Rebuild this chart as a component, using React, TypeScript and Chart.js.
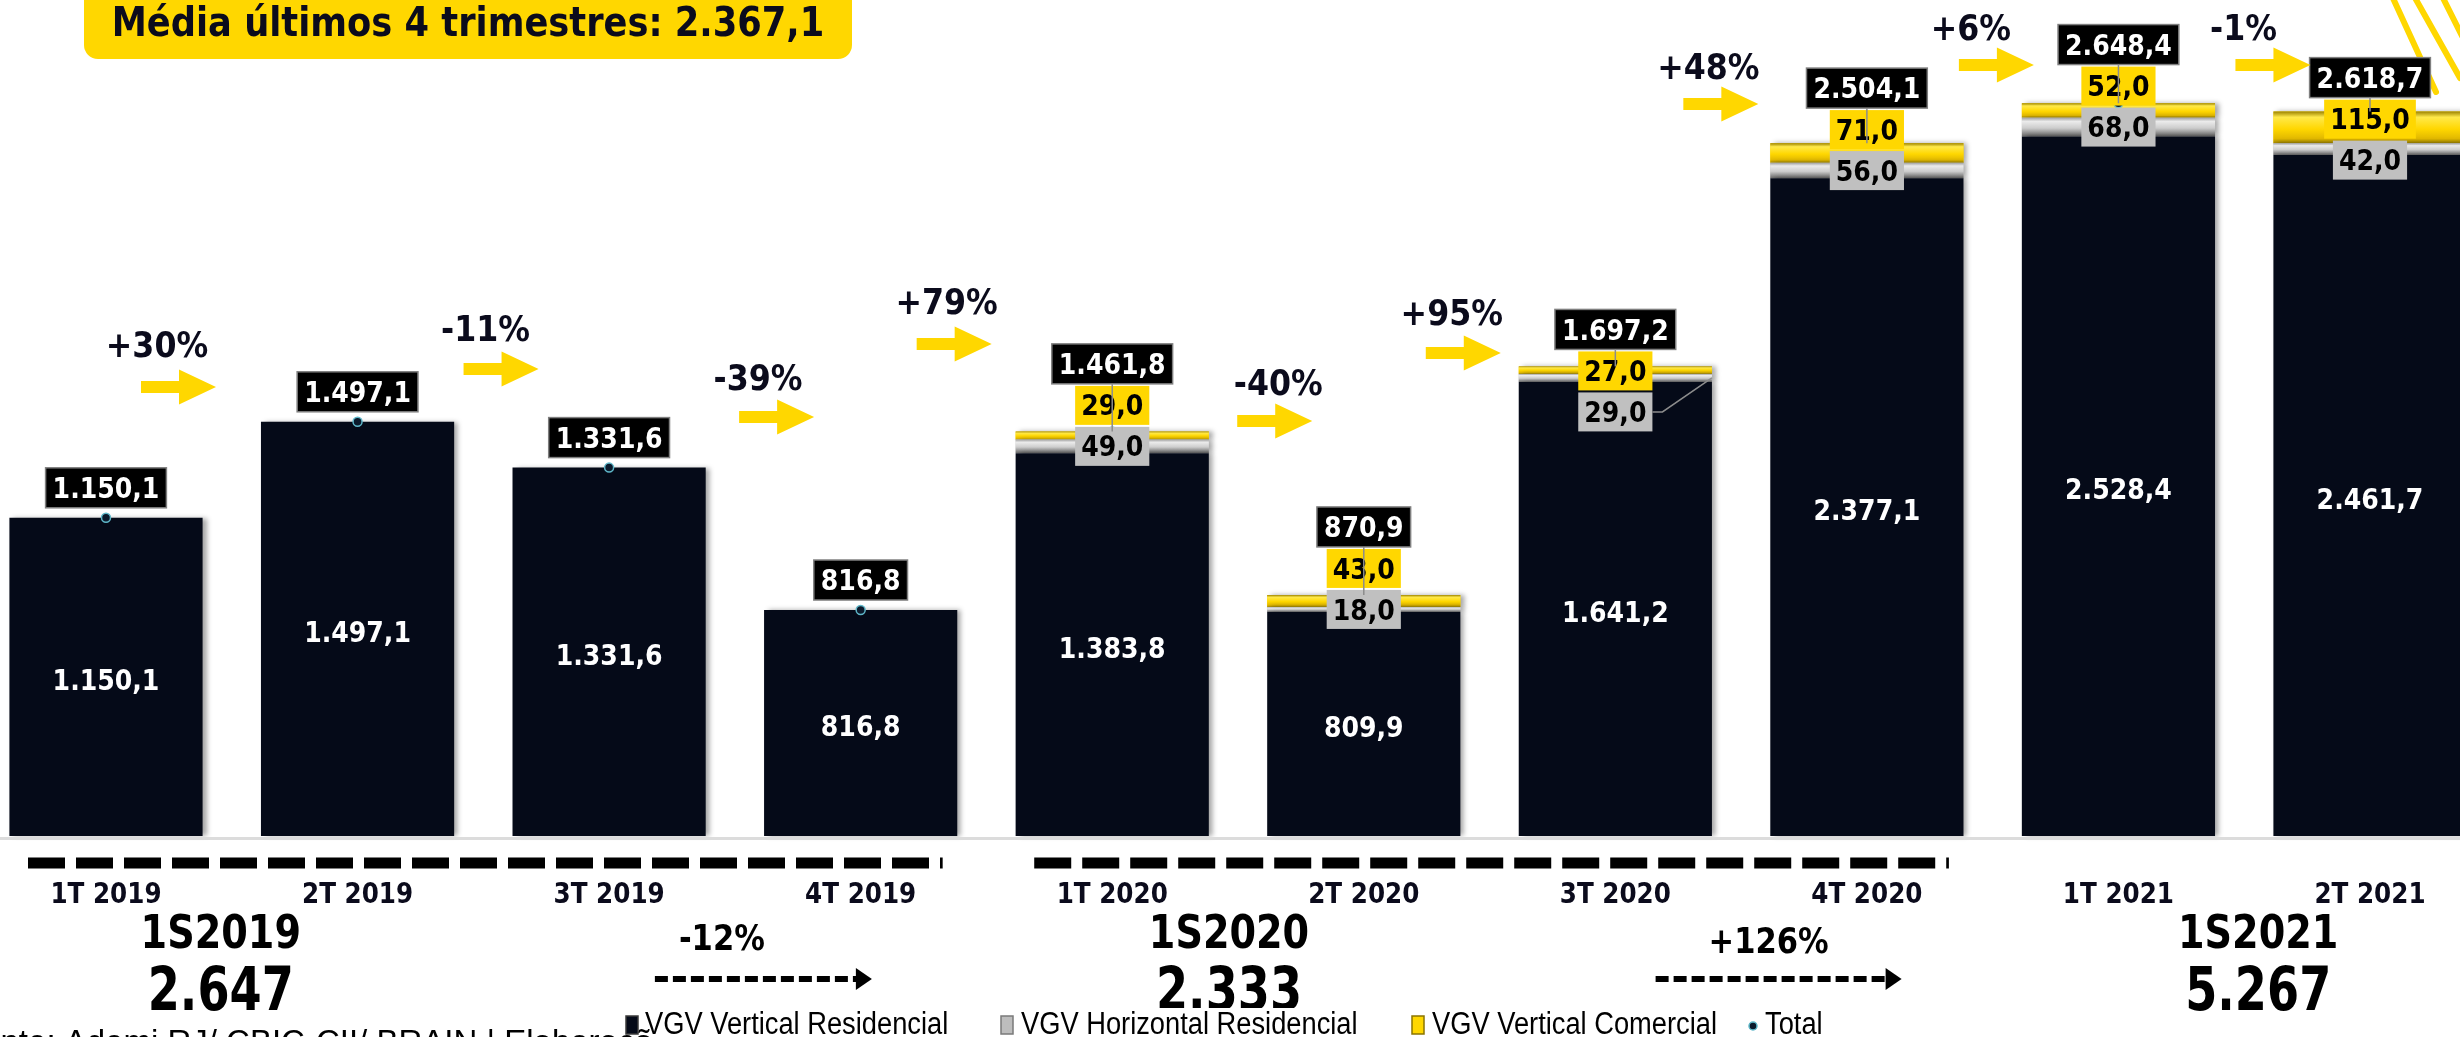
import React, { useEffect, useRef } from "react";
import { Chart, registerables } from "chart.js";

Chart.register(...registerables);

// ---------------- data ----------------
const categories = ["1T 2019", "2T 2019", "3T 2019", "4T 2019", "1T 2020", "2T 2020", "3T 2020", "4T 2020", "1T 2021", "2T 2021"];
const vgvVerticalResidencial = [1150.1, 1497.1, 1331.6, 816.8, 1383.8, 809.9, 1641.2, 2377.1, 2528.4, 2461.7];
const vgvHorizontalResidencial = [0, 0, 0, 0, 49.0, 18.0, 29.0, 56.0, 68.0, 42.0];
const vgvVerticalComercial = [0, 0, 0, 0, 29.0, 43.0, 27.0, 71.0, 52.0, 115.0];
const totalValues = [1150.1, 1497.1, 1331.6, 816.8, 1461.8, 870.9, 1697.2, 2504.1, 2648.4, 2618.7];
const quarterChanges = ["+30%", "-11%", "-39%", "+79%", "-40%", "+95%", "+48%", "+6%", "-1%"];
const semesterNames = ["1S2019", "1S2020", "1S2021"];
const semesterTotals = ["2.647", "2.333", "5.267"];
const semesterChanges = ["-12%", "+126%"];
const headline = "Média últimos 4 trimestres: 2.367,1";
const sourceNote = "Fonte: Ademi RJ/ CBIC-CII/ BRAIN | Elaboração: BRAIN";
const legendNames = ["VGV Vertical Residencial", "VGV Horizontal Residencial", "VGV Vertical Comercial", "Total"];

// ---------------- layout / style ----------------
const W = 2460;
const H = 1037;
const NAVY = "#050a18";
const GOLD = "#FFD700";
const GRAY = "#c4c4c4";
const INK = "#0b0b1c";
const BOLD = "'DejaVu Sans'";
const NARROW = "'Liberation Sans'";
const VAL_SIZE = 28;
const VAL_SX = 0.9;
// annotation offsets (px) relative to the x position of the "from" bar
const CHANGE_POS = [
  { ax: 35, ay: 387, tx: 51, ty: 344 },
  { ax: 106, ay: 369, tx: 128, ty: 328 },
  { ax: 130, ay: 417, tx: 149, ty: 377 },
  { ax: 56, ay: 344, tx: 86, ty: 301 },
  { ax: 125, ay: 421, tx: 166, ty: 382 },
  { ax: 62, ay: 353, tx: 88, ty: 312 },
  { ax: 68, ay: 104, tx: 93, ty: 66 },
  { ax: 92, ay: 65, tx: 104, ty: 27 },
  { ax: 117, ay: 65, tx: 125, ty: 27 },
];
const GRAY_LABEL_SHIFT = [0, 0, 0, 0, 0, 0, 34, 0, 0, 11];
const SEMESTER_BARS = [[0, 1], [4, 5], [8, 9]];
const SEMESTER_DX = [-11, -9, 14];
const DASH_GROUPS = [[0, 3], [4, 7]];
const SEM_CHANGE_POS = [
  { tdx: -3, ty: 937, a0: -70, a1: 147, ay: 979 },
  { tdx: 25, ty: 940, a0: -88, a1: 158, ay: 979 },
];

const fmt = (v: number) => {
  const [i, d] = v.toFixed(1).split(".");
  return i.replace(/\B(?=(\d{3})+(?!\d))/g, ".") + "," + d;
};

function capText(ctx: CanvasRenderingContext2D, s: string, cx: number, cy: number, size: number, family: string, weight: string, color: string, sx = 1, align: CanvasTextAlign = "center") {
  ctx.save();
  ctx.font = `${weight} ${size}px ${family}`;
  ctx.fillStyle = color;
  ctx.textAlign = align;
  ctx.textBaseline = "alphabetic";
  ctx.translate(cx, cy + size * 0.36);
  ctx.scale(sx, 1);
  ctx.fillText(s, 0, 0);
  ctx.restore();
}

function labelBox(ctx: CanvasRenderingContext2D, s: string, cx: number, top: number, h: number, fill: string, stroke: string | null, color: string, padX: number) {
  ctx.save();
  ctx.font = `bold ${VAL_SIZE}px ${BOLD}`;
  const w = ctx.measureText(s).width * VAL_SX + padX * 2;
  ctx.fillStyle = fill;
  ctx.fillRect(cx - w / 2, top, w, h);
  if (stroke) {
    ctx.strokeStyle = stroke;
    ctx.lineWidth = 1.5;
    ctx.strokeRect(cx - w / 2, top, w, h);
  }
  ctx.restore();
  capText(ctx, s, cx, top + h / 2, VAL_SIZE, BOLD, "bold", color, VAL_SX);
  return w;
}

function yellowArrow(ctx: CanvasRenderingContext2D, x: number, cy: number) {
  const L = 75, sh = 12, headL = 37, headH = 35;
  ctx.save();
  ctx.fillStyle = GOLD;
  ctx.beginPath();
  ctx.moveTo(x, cy - sh / 2);
  ctx.lineTo(x + L - headL, cy - sh / 2);
  ctx.lineTo(x + L - headL, cy - headH / 2);
  ctx.lineTo(x + L, cy);
  ctx.lineTo(x + L - headL, cy + headH / 2);
  ctx.lineTo(x + L - headL, cy + sh / 2);
  ctx.lineTo(x, cy + sh / 2);
  ctx.closePath();
  ctx.fill();
  ctx.restore();
}

function dashedArrow(ctx: CanvasRenderingContext2D, x0: number, x1: number, y: number) {
  ctx.save();
  ctx.strokeStyle = "#000";
  ctx.fillStyle = "#000";
  ctx.lineWidth = 6;
  ctx.setLineDash([13, 5]);
  ctx.beginPath();
  ctx.moveTo(x0, y);
  ctx.lineTo(x1 - 14, y);
  ctx.stroke();
  ctx.setLineDash([]);
  ctx.beginPath();
  ctx.moveTo(x1 - 16, y - 11);
  ctx.lineTo(x1, y);
  ctx.lineTo(x1 - 16, y + 11);
  ctx.closePath();
  ctx.fill();
  ctx.restore();
}

const bevelPlugin = {
  id: "bevel",
  beforeDatasetDraw(chart: any, args: any) {
    if (args.meta.type === "bar") {
      const ctx = chart.ctx;
      ctx.save();
      ctx.shadowColor = "rgba(0,0,0,0.35)";
      ctx.shadowBlur = 5;
      ctx.shadowOffsetX = 4;
      ctx.shadowOffsetY = 0;
    }
  },
  afterDatasetDraw(chart: any, args: any) {
    if (args.meta.type !== "bar") return;
    const ctx = chart.ctx;
    ctx.restore();
    if (args.index !== 1 && args.index !== 2) return;
    const stops = args.index === 1
      ? [[0, "#a0a0a0"], [0.2, "#ebebeb"], [0.55, "#cdcdcd"], [0.85, "#8a8a8a"], [1, "#666"]]
      : [[0, "#9c8300"], [0.18, "#ffe94a"], [0.55, "#ffd700"], [0.85, "#e2b900"], [1, "#a08600"]];
    args.meta.data.forEach((el: any) => {
      const top = Math.min(el.y, el.base);
      const h = Math.abs(el.base - el.y);
      if (h < 0.5) return;
      const g = ctx.createLinearGradient(0, top, 0, top + h);
      stops.forEach(([o, c]: any) => g.addColorStop(o, c));
      ctx.save();
      ctx.fillStyle = g;
      ctx.fillRect(el.x - el.width / 2, top, el.width, h);
      ctx.restore();
    });
  },
};

const annotationPlugin = {
  id: "annotations",
  afterDraw(chart: any) {
    const ctx: CanvasRenderingContext2D = chart.ctx;
    const xs = chart.scales.x;
    const ys = chart.scales.y;
    const X = (i: number) => xs.getPixelForValue(i);
    const base = ys.getPixelForValue(0);
    const mRes = chart.getDatasetMeta(0);
    const mHor = chart.getDatasetMeta(1);
    const mTot = chart.getDatasetMeta(3);

    // axis line
    ctx.save();
    ctx.fillStyle = "#dcdcdc";
    ctx.fillRect(0, base + 1, W, 3);
    ctx.restore();

    // headline box
    ctx.save();
    ctx.fillStyle = GOLD;
    ctx.beginPath();
    (ctx as any).roundRect(84, -20, 768, 79, 14);
    ctx.fill();
    ctx.restore();
    capText(ctx, headline, 468, 21, 41, BOLD, "bold", INK, 0.86);

    // top-right decoration rays
    ctx.save();
    ctx.strokeStyle = GOLD;
    ctx.lineWidth = 6;
    ctx.lineCap = "round";
    [[2392, -4, 2436, 92], [2414, -4, 2460, 78], [2442, -4, 2462, 36]].forEach(([a, b, c, d]) => {
      ctx.beginPath();
      ctx.moveTo(a, b);
      ctx.lineTo(c, d);
      ctx.stroke();
    });
    ctx.restore();

    // value labels in residential segment
    mRes.data.forEach((el: any, i: number) => {
      capText(ctx, fmt(vgvVerticalResidencial[i]), el.x, (el.y + el.base) / 2 + 3, VAL_SIZE, BOLD, "bold", "#ffffff", VAL_SX);
    });

    // stacked labels and totals
    for (let i = 0; i < categories.length; i++) {
      const cx = X(i);
      const topY = mTot.data[i].y;
      if (vgvHorizontalResidencial[i] > 0 || vgvVerticalComercial[i] > 0) {
        const hEl = mHor.data[i];
        const segC = (hEl.y + hEl.base) / 2;
        const grayCy = segC + GRAY_LABEL_SHIFT[i];
        const grayTop = grayCy - 19.5;
        const yTop = grayTop - 2 - 39;
        const bTop = yTop - 2 - 40;
        const gw = labelBox(ctx, fmt(vgvHorizontalResidencial[i]), cx, grayTop, 39, "#c0c0c0", null, "#000", 6);
        labelBox(ctx, fmt(vgvVerticalComercial[i]), cx, yTop, 39, GOLD, null, "#000", 6);
        if (GRAY_LABEL_SHIFT[i] > 20) {
          const el = mRes.data[i];
          ctx.save();
          ctx.strokeStyle = "#8c8c8c";
          ctx.lineWidth = 1.5;
          ctx.beginPath();
          ctx.moveTo(cx + gw / 2, grayCy);
          ctx.lineTo(cx + gw / 2 + 10, grayCy);
          ctx.lineTo(el.x + el.width / 2, segC);
          ctx.stroke();
          ctx.restore();
        }
        labelBox(ctx, fmt(totalValues[i]), cx, bTop, 40, "#000", "#7f7f7f", "#fff", 7);
        ctx.save();
        ctx.strokeStyle = "#8c8c8c";
        ctx.lineWidth = 1.5;
        ctx.beginPath();
        ctx.moveTo(cx, bTop + 40);
        ctx.lineTo(cx, topY);
        ctx.stroke();
        ctx.restore();
      } else {
        const boxBottom = topY - 10;
        labelBox(ctx, fmt(totalValues[i]), cx, boxBottom - 40, 40, "#000", "#7f7f7f", "#fff", 7);
      }
    }

    // quarter-on-quarter changes
    quarterChanges.forEach((s, i) => {
      const p = CHANGE_POS[i];
      yellowArrow(ctx, X(i) + p.ax, p.ay);
      capText(ctx, s, X(i) + p.tx, p.ty, 36, BOLD, "bold", INK, 0.88);
    });

    // dashed group lines
    ctx.save();
    ctx.strokeStyle = "#000";
    ctx.lineWidth = 11;
    ctx.setLineDash([37, 11]);
    DASH_GROUPS.forEach(([a, b]) => {
      ctx.beginPath();
      ctx.moveTo(X(a) - 78, 863);
      ctx.lineTo(X(b) + 82, 863);
      ctx.stroke();
    });
    ctx.restore();

    // category labels
    categories.forEach((c, i) => capText(ctx, c, X(i), 893, 29, BOLD, "bold", INK, 0.85));

    // semesters
    const semC = SEMESTER_BARS.map(([a, b], k) => (X(a) + X(b)) / 2 + SEMESTER_DX[k]);
    semesterNames.forEach((s, k) => {
      capText(ctx, s, semC[k], 931, 46, BOLD, "bold", "#000", 0.83);
      capText(ctx, semesterTotals[k], semC[k], 988, 60, BOLD, "bold", "#000", 0.77);
    });
    semesterChanges.forEach((s, k) => {
      const p = SEM_CHANGE_POS[k];
      const mid = (semC[k] + semC[k + 1]) / 2;
      capText(ctx, s, mid + p.tdx, p.ty, 36, BOLD, "bold", "#000", 0.85);
      dashedArrow(ctx, mid + p.a0, mid + p.a1, p.ay);
    });

    // source note (cut by the page edge)
    ctx.save();
    ctx.font = `33px ${NARROW}`;
    ctx.fillStyle = "#000";
    ctx.textAlign = "left";
    ctx.textBaseline = "alphabetic";
    ctx.fillText(sourceNote, -38, 1053);
    ctx.restore();

    // legend
    ctx.save();
    ctx.fillStyle = "#fff";
    ctx.fillRect(656, 1008, 1190, 29);
    ctx.restore();
    const legendX = [[626, 645], [1001, 1021], [1412, 1432], [1753, 1765]];
    legendNames.forEach((name, k) => {
      const [mx, tx] = legendX[k];
      ctx.save();
      if (k < 3) {
        const fills = [NAVY, "#bdbdbd", GOLD];
        const edges = ["#3a3a3a", "#7a7a7a", "#8a7400"];
        ctx.fillStyle = fills[k];
        ctx.fillRect(mx, 1016, 12, 18);
        ctx.strokeStyle = edges[k];
        ctx.lineWidth = 1.5;
        ctx.strokeRect(mx, 1016, 12, 18);
      } else {
        ctx.fillStyle = "#0b1a2c";
        ctx.strokeStyle = "#5fb7c9";
        ctx.lineWidth = 1.5;
        ctx.beginPath();
        ctx.arc(mx, 1026, 4, 0, Math.PI * 2);
        ctx.fill();
        ctx.stroke();
      }
      ctx.restore();
      ctx.save();
      ctx.font = `31px ${NARROW}`;
      ctx.fillStyle = "#000";
      ctx.textAlign = "left";
      ctx.translate(tx, 1034);
      ctx.scale(0.88, 1);
      ctx.fillText(name, 0, 0);
      ctx.restore();
    });
  },
};

export default function App() {
  const ref = useRef<HTMLCanvasElement>(null);
  useEffect(() => {
    const canvas = ref.current;
    if (!canvas) return;
    const chart = new Chart(canvas, {
      type: "bar",
      data: {
        labels: categories,
        datasets: [
          { label: legendNames[0], data: vgvVerticalResidencial, backgroundColor: NAVY, stack: "vgv", order: 1, clip: false } as any,
          { label: legendNames[1], data: vgvHorizontalResidencial, backgroundColor: GRAY, stack: "vgv", order: 1, clip: false } as any,
          { label: legendNames[2], data: vgvVerticalComercial, backgroundColor: GOLD, stack: "vgv", order: 1, clip: false } as any,
          {
            type: "line", label: legendNames[3], data: totalValues, showLine: false, stack: "total", order: 0, clip: false,
            pointRadius: 4.5, pointBackgroundColor: "#0b1a2c", pointBorderColor: "#5fb7c9", pointBorderWidth: 1.5,
          } as any,
        ],
      },
      options: {
        animation: false,
        responsive: false,
        devicePixelRatio: 1,
        layout: { padding: { left: 106, right: 90, top: 6, bottom: 201 } },
        datasets: { bar: { categoryPercentage: 1, barPercentage: 0.768 } } as any,
        scales: {
          x: { display: false, offset: false, stacked: true },
          y: { display: false, stacked: true, min: 0, max: 3000 },
        },
        plugins: { legend: { display: false }, tooltip: { enabled: false } },
      },
      plugins: [bevelPlugin, annotationPlugin],
    });
    return () => chart.destroy();
  }, []);
  return (
    <div style={{ position: "fixed", left: 0, top: 0, width: W, height: H, overflow: "hidden", background: "#fff" }}>
      <canvas ref={ref} width={W} height={H} style={{ display: "block", width: W, height: H }} />
    </div>
  );
}
